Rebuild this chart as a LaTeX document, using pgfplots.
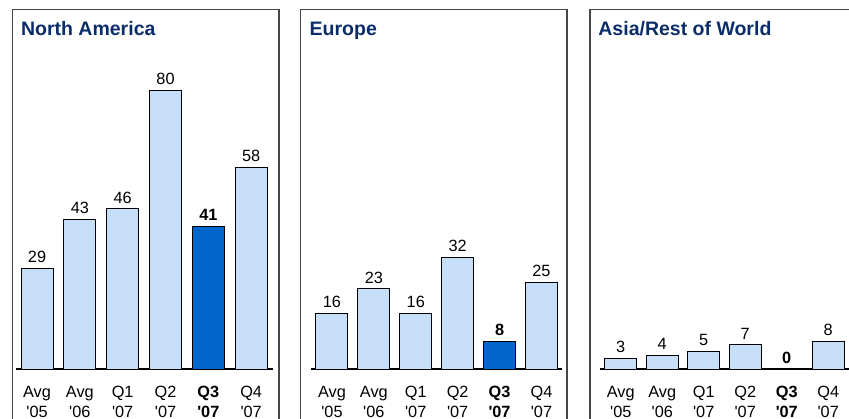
\documentclass[border=0pt]{standalone}
\usepackage{fontspec}
\setmainfont{Liberation Sans}
\usepackage{pgfplots}
\pgfplotsset{compat=1.18}

\definecolor{barlight}{RGB}{198,222,248}
\definecolor{bardark}{RGB}{0,102,204}
\definecolor{titleblue}{RGB}{10,45,105}
\definecolor{frame}{RGB}{70,70,70}

\newcommand{\lbl}{\fontsize{8.15}{9.75}\selectfont}
\newcommand{\yr}[1]{\textquotesingle #1}

\pgfplotsset{
  panel/.style={
    scale only axis, height=156.6pt,
    ymin=0, ymax=90, xmin=-0.5, xmax=5.5,
    axis y line=none, axis x line=bottom,
    x axis line style={-, line width=1.3pt, black},
    xtick={0,...,5}, major tick length=0pt,
    xticklabels={{Avg\\\yr{05}},{Avg\\\yr{06}},{Q1\\\yr{07}},{Q2\\\yr{07}},
                 {\textbf{Q3}\\\textbf{\yr{07}}},{Q4\\\yr{07}}},
    xticklabel style={align=center, inner sep=0pt, yshift=-8.5pt, font=\lbl},
    /pgf/number format/assume math mode=true,
    ybar, bar width=16pt, bar shift=0pt, clip=false,
    nodes near coords,
    nodes near coords style={font=\lbl, inner sep=0pt, anchor=south, yshift=2.5pt},
    every axis plot/.append style={draw=black, line width=0.5pt},
  },
  q3/.style={fill=bardark, every node near coord/.append style={font=\lbl\bfseries}},
}

\begin{document}
\begin{tikzpicture}
\useasboundingbox (0,0) rectangle (424.5pt,209pt);
\clip (0,0) rectangle (424.5pt,209pt);

% panel frames
\draw[frame, line width=0.6pt] (6.35pt,-20pt) rectangle (139.5pt,204.25pt);
\draw[frame, line width=0.6pt] (150.35pt,-20pt) rectangle (283.5pt,204.25pt);
\draw[frame, line width=0.6pt] (295pt,-20pt) rectangle (440pt,204.25pt);

% titles
\node[anchor=base west, inner sep=0pt, text=titleblue, font=\fontsize{9.75}{11}\selectfont\bfseries] at (10.35pt,191.15pt) {North America};
\node[anchor=base west, inner sep=0pt, text=titleblue, font=\fontsize{9.75}{11}\selectfont\bfseries] at (154.65pt,191.15pt) {Europe};
\node[anchor=base west, inner sep=0pt, text=titleblue, font=\fontsize{9.75}{11}\selectfont\bfseries] at (299pt,191.15pt) {Asia/Rest of World};

% North America
\begin{axis}[panel, width=128.5pt, at={(7.8pt,24.5pt)}, anchor=south west]
\addplot[fill=barlight] coordinates {(0,29) (1,43) (2,46) (3,80) (5,58)};
\addplot[q3] coordinates {(4,41)};
\end{axis}

% Europe
\begin{axis}[panel, width=125.7pt, at={(155.5pt,24.5pt)}, anchor=south west]
\addplot[fill=barlight] coordinates {(0,16) (1,23) (2,16) (3,32) (5,25)};
\addplot[q3] coordinates {(4,8)};
\end{axis}

% Asia/Rest of World
\begin{axis}[panel, width=124.5pt, at={(300pt,24.5pt)}, anchor=south west]
\addplot[fill=barlight] coordinates {(0,3) (1,4) (2,5) (3,7) (5,8)};
\addplot[q3] coordinates {(4,0)};
\end{axis}
\end{tikzpicture}
\end{document}
